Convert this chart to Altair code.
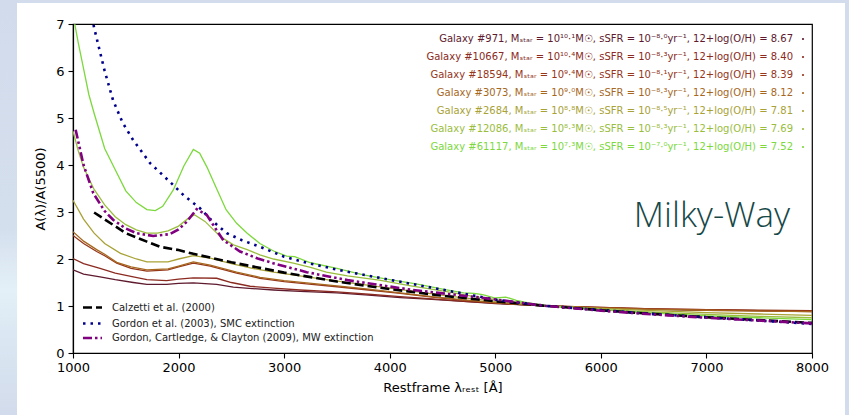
import altair as alt
import pandas as pd

# ---------------- galaxy attenuation curves ----------------
gal_ids = ["971", "10667", "18594", "3073", "2684", "12086", "61117"]
log_mstar = ["10.1", "10.4", "9.4", "9.0", "8.8", "8.3", "7.3"]
log_ssfr = ["-8.0", "-8.3", "-8.1", "-8.3", "-8.5", "-8.3", "-7.0"]
oh_vals = ["8.67", "8.40", "8.39", "8.12", "7.81", "7.69", "7.52"]
gal_colors = ["#5e1a2e", "#8b2a20", "#96361a", "#a6681e", "#a8a236", "#9abd3e", "#7cd83c"]

lam_971 = [1000, 1100, 1256, 1400, 1571, 1700, 1887, 2000, 2140, 2361, 2519, 2700, 2900, 3150, 3500,
           3800, 4100, 4400, 4700, 5000, 5500, 6000, 6500, 7000, 7500, 8000]
a_971 = [1.77, 1.68, 1.62, 1.56, 1.50, 1.46, 1.46, 1.48, 1.49, 1.46, 1.40, 1.37, 1.34, 1.31, 1.28,
         1.23, 1.18, 1.14, 1.10, 1.05, 1.00, 0.96, 0.93, 0.91, 0.90, 0.89]

lam_10667 = [1000, 1100, 1256, 1400, 1571, 1700, 1887, 2000, 2140, 2361, 2500, 2677, 2900, 3150, 3500,
             3800, 4100, 4400, 4700, 5000, 5500, 6000, 6500, 7000, 7500, 8000]
a_10667 = [2.01, 1.90, 1.80, 1.70, 1.62, 1.56, 1.54, 1.57, 1.60, 1.59, 1.50, 1.42, 1.38, 1.34, 1.30,
           1.25, 1.20, 1.15, 1.10, 1.06, 1.00, 0.97, 0.94, 0.92, 0.90, 0.88]

lam_18594 = [1000, 1100, 1224, 1300, 1414, 1550, 1700, 1900, 2000, 2140, 2300, 2550, 2771, 3000, 3213,
             3500, 3800, 4100, 4400, 4700, 5000, 5500, 6000, 6500, 7000, 7500, 8000]
a_18594 = [2.50, 2.33, 2.16, 2.07, 1.91, 1.80, 1.74, 1.77, 1.83, 1.91, 1.85, 1.70, 1.59, 1.52, 1.47,
           1.41, 1.34, 1.27, 1.19, 1.12, 1.06, 1.00, 0.97, 0.94, 0.92, 0.91, 0.90]

lam_3073 = [1000, 1100, 1224, 1300, 1414, 1550, 1700, 1900, 2000, 2140, 2300, 2550, 2771, 3000, 3213,
            3500, 3800, 4100, 4400, 4700, 5000, 5500, 6000, 6500, 7000, 7500, 8000]
a_3073 = [2.58, 2.38, 2.20, 2.10, 1.93, 1.83, 1.77, 1.79, 1.85, 1.94, 1.87, 1.72, 1.61, 1.54, 1.49,
          1.43, 1.36, 1.28, 1.20, 1.13, 1.07, 1.00, 0.96, 0.93, 0.91, 0.89, 0.88]

lam_2684 = [1000, 1100, 1200, 1300, 1450, 1600, 1700, 1900, 2000, 2140, 2300, 2500, 2700, 2900, 3150,
            3400, 3700, 4000, 4300, 4600, 5000, 5500, 6000, 6500, 7000, 7500, 8000]
a_2684 = [3.25, 2.85, 2.55, 2.33, 2.12, 2.00, 1.94, 1.94, 2.00, 2.07, 2.02, 1.90, 1.80, 1.72, 1.64,
          1.56, 1.47, 1.38, 1.29, 1.20, 1.10, 1.00, 0.95, 0.90, 0.86, 0.83, 0.80]

lam_12086 = [1000, 1050, 1100, 1200, 1300, 1400, 1500, 1600, 1700, 1800, 1900, 2000, 2100, 2150, 2250,
             2400, 2520, 2650, 2770, 2900, 3087, 3250, 3400, 3600, 3900, 4200, 4500, 4800, 5000, 5200,
             5500, 6000, 6500, 7000, 7500, 8000]
a_12086 = [4.72, 4.30, 3.95, 3.48, 3.15, 2.90, 2.73, 2.62, 2.55, 2.55, 2.60, 2.70, 2.88, 2.94, 2.80,
           2.47, 2.30, 2.20, 2.09, 2.00, 1.91, 1.82, 1.72, 1.64, 1.55, 1.43, 1.32, 1.20, 1.14, 1.08,
           1.00, 0.93, 0.87, 0.82, 0.78, 0.75]

lam_61117 = [1000, 1050, 1100, 1150, 1200, 1300, 1400, 1500, 1600, 1700, 1780, 1850, 1950, 2050, 2140,
             2200, 2270, 2350, 2450, 2550, 2650, 2770, 2900, 3024, 3100, 3250, 3500, 3750, 4000, 4250,
             4500, 4700, 4800, 4880, 5000, 5100, 5200, 5300, 5500, 6000, 6500, 7000, 7500, 8000]
a_61117 = [7.20, 6.60, 6.05, 5.50, 5.10, 4.35, 3.90, 3.45, 3.20, 3.05, 3.03, 3.12, 3.47, 3.98, 4.33,
           4.25, 3.95, 3.55, 3.05, 2.76, 2.55, 2.33, 2.17, 2.06, 2.05, 1.92, 1.80, 1.66, 1.56, 1.47,
           1.36, 1.28, 1.27, 1.24, 1.17, 1.19, 1.12, 1.07, 1.00, 0.92, 0.85, 0.79, 0.75, 0.71]

gal_lams = [lam_971, lam_10667, lam_18594, lam_3073, lam_2684, lam_12086, lam_61117]
gal_vals = [a_971, a_10667, a_18594, a_3073, a_2684, a_12086, a_61117]

# ---------------- reference extinction laws ----------------
lam_calz = [1200, 1500, 1700, 1824, 2000, 2140, 2500, 3000, 3500, 4000, 4500, 5000, 5500, 6000, 6300,
            7000, 8000]
a_calz = [2.99, 2.55, 2.37, 2.26, 2.19, 2.11, 1.93, 1.71, 1.52, 1.36, 1.22, 1.10, 1.00, 0.91, 0.86,
          0.76, 0.64]

lam_smc = [1150, 1200, 1300, 1379, 1470, 1570, 1730, 1919, 2050, 2203, 2300, 2456, 2600, 2771, 3000,
           3213, 3561, 4066, 4540, 5014, 5487, 5992, 6500, 7000, 7500, 8000]
a_smc = [7.45, 6.92, 6.00, 5.38, 4.90, 4.53, 4.04, 3.64, 3.35, 3.08, 2.85, 2.55, 2.40, 2.26, 2.05,
         1.92, 1.745, 1.53, 1.33, 1.13, 1.00, 0.915, 0.83, 0.76, 0.69, 0.62]

lam_mw = [1025, 1100, 1192, 1300, 1382, 1500, 1600, 1760, 1919, 2000, 2077, 2171, 2266, 2350, 2424,
          2582, 2750, 2897, 3213, 3600, 4220, 4855, 5487, 6000, 6500, 7000, 7500, 8000]
a_mw = [4.75, 4.00, 3.40, 3.02, 2.83, 2.65, 2.55, 2.49, 2.53, 2.63, 2.79, 3.06, 2.94, 2.65, 2.40,
        2.16, 2.01, 1.91, 1.72, 1.55, 1.34, 1.18, 1.00, 0.90, 0.82, 0.75, 0.69, 0.63]

ref_names = ["Calzetti et al. (2000)",
             "Gordon et al. (2003), SMC extinction",
             "Gordon, Cartledge, & Clayton (2009), MW extinction"]
ref_colors = ["#000000", "#00008b", "#800080"]
ref_dashes = [[9, 4], [2.5, 5], [9, 3, 2.5, 3, 2.5, 3]]

# ---------------- helpers ----------------
SUP = str.maketrans("0123456789-.", "⁰¹²³⁴⁵⁶⁷⁸⁹⁻·")


def sup(s):
    return s.translate(SUP)


gal_labels = [
    f"Galaxy #{g}, Mₛₜₐᵣ = 10{sup(m)}M☉, sSFR = 10{sup(s)}yr⁻¹, 12+log(O/H) = {o}"
    for g, m, s, o in zip(gal_ids, log_mstar, log_ssfr, oh_vals)
]

rows = []
for gid, lams, vals in zip(gal_ids, gal_lams, gal_vals):
    for l, v in zip(lams, vals):
        rows.append({"galaxy": gid, "lam": l, "A": v})
gal_df = pd.DataFrame(rows)

W, H = 739, 329
FONT = "DejaVu Sans"
EDGE = "#d3dcec"

x_scale = alt.Scale(domain=[1000, 8000], nice=False, zero=False)
y_scale = alt.Scale(domain=[0, 7], nice=False)

x_enc = alt.X("lam:Q", scale=x_scale,
              axis=alt.Axis(values=list(range(1000, 8001, 1000)), format="d",
                            title="Restframe λᵣₑₛₜ [Å]"))
y_enc = alt.Y("A:Q", scale=y_scale,
              axis=alt.Axis(values=list(range(0, 8)), title="A(λ)/A(5500)"))

one = pd.DataFrame({"k": [0]})

# pale blue border strips around the white figure
left_glow = alt.LinearGradient(
    gradient="linear", x1=0, y1=0, x2=0, y2=1,
    stops=[alt.GradientStop(offset=0, color="#d2dbeb"),
           alt.GradientStop(offset=0.55, color="#d4dfee"),
           alt.GradientStop(offset=0.7, color="#e4f0f7"),
           alt.GradientStop(offset=0.8, color="#dbe8f3"),
           alt.GradientStop(offset=1, color="#d2dbeb")],
)
strips = [
    alt.Chart(one).mark_rect(color=left_glow).encode(
        x=alt.value(-73), x2=alt.value(-56), y=alt.value(-24), y2=alt.value(391)),
    alt.Chart(one).mark_rect(color=EDGE).encode(
        x=alt.value(-56), x2=alt.value(776), y=alt.value(-24), y2=alt.value(-21)),
    alt.Chart(one).mark_rect(color=EDGE).encode(
        x=alt.value(772), x2=alt.value(776), y=alt.value(-24), y2=alt.value(391)),
]

gal_lines = alt.Chart(gal_df).mark_line(strokeWidth=1.3, clip=True).encode(
    x=x_enc, y=y_enc,
    color=alt.Color("galaxy:N", scale=alt.Scale(domain=gal_ids, range=gal_colors), legend=None),
    order="lam:Q",
)


def ref_layer(lams, vals, color, dash, width):
    df = pd.DataFrame({"lam": lams, "A": vals})
    return alt.Chart(df).mark_line(color=color, strokeDash=dash, strokeWidth=width,
                                   clip=True, strokeCap="butt").encode(
        x=x_enc, y=y_enc, order="lam:Q")


calz = ref_layer(lam_calz, a_calz, ref_colors[0], ref_dashes[0], 2.6)
smc = ref_layer(lam_smc, a_smc, ref_colors[1], ref_dashes[1], 2.6)
mw = ref_layer(lam_mw, a_mw, ref_colors[2], ref_dashes[2], 2.6)

# galaxy legend (upper right)
gal_leg = []
for i, (label, color) in enumerate(zip(gal_labels, gal_colors)):
    yy = 15 + 18 * i
    gal_leg.append(
        alt.Chart(one).mark_text(align="right", baseline="middle", font=FONT, fontSize=10,
                                 color=color, text=label).encode(
            x=alt.value(720), y=alt.value(yy))
    )
    gal_leg.append(
        alt.Chart(one).mark_circle(size=5, opacity=1, color=color).encode(
            x=alt.value(730), y=alt.value(yy))
    )

# reference legend (lower left)
ref_rows = [283.5, 299.5, 314]
ref_leg = []
for name, color, dash, yy in zip(ref_names, ref_colors, ref_dashes, ref_rows):
    ref_leg.append(
        alt.Chart(one).mark_rule(color=color, strokeDash=dash, strokeWidth=2.6, strokeCap="butt").encode(
            x=alt.value(10), x2=alt.value(29), y=alt.value(yy))
    )
    ref_leg.append(
        alt.Chart(one).mark_text(align="left", baseline="middle", font=FONT, fontSize=10,
                                 color="#222222", text=name).encode(
            x=alt.value(39), y=alt.value(yy))
    )

milky = alt.Chart(one).mark_text(
    text="Milky-Way", font="Open Sans", fontWeight=300, fontSize=35, color="#164848",
    align="right", baseline="alphabetic"
).encode(x=alt.value(717), y=alt.value(203))

chart = alt.layer(
    *strips, gal_lines, calz, smc, mw, *gal_leg, *ref_leg, milky
).properties(
    width=W, height=H,
    padding={"left": 73, "top": 24, "right": 37, "bottom": 62},
    autosize=alt.AutoSizeParams(type="none"),
    background="white",
).configure_view(
    stroke="black", strokeWidth=1.2
).configure_axis(
    labelFont=FONT, titleFont=FONT, labelFontSize=13, titleFontSize=13,
    labelColor="black", titleColor="black", titleFontWeight="normal",
    domainColor="black", tickColor="black", tickSize=5, domainWidth=1.2, tickWidth=1.1,
    grid=False, labelPadding=3, zindex=1, labelFlush=False,
).configure_axisX(
    titlePadding=7,
).configure_axisY(
    titlePadding=8, labelPadding=4,
)

chart.save("out.html", embed_options={"renderer": "svg", "actions": False})
